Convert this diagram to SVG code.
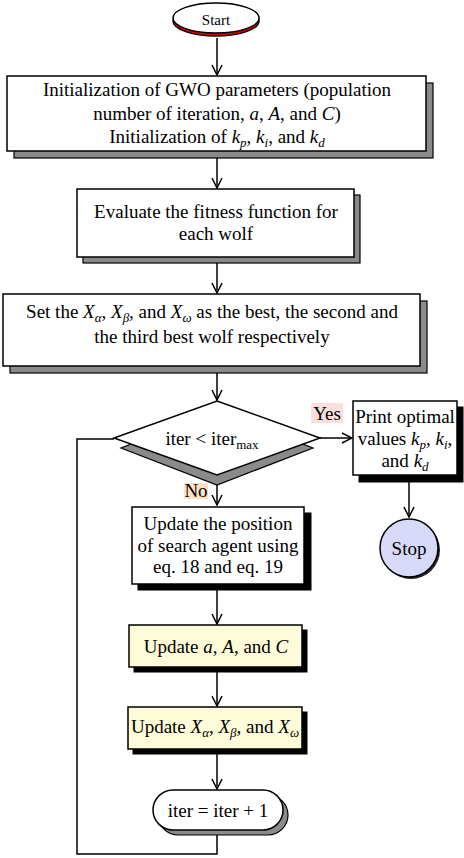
<svg xmlns="http://www.w3.org/2000/svg" width="464" height="858" viewBox="0 0 464 858">
<style>
text{font-family:"Liberation Serif","Times New Roman",serif;font-size:19px;fill:#000;text-anchor:middle}
.i{font-style:italic}
.s{font-size:13px}
.box{fill:#fff;stroke:#000;stroke-width:1.5}
.yel{fill:#fdfbd8;stroke:#000;stroke-width:1.5}
.gsh{fill:#8a8a8a;stroke:#000;stroke-width:1.2}
.bsh{fill:#000;stroke:#000;stroke-width:1}
.ln{fill:none;stroke:#000;stroke-width:1.5}
</style>
<defs>
<marker id="ah" markerUnits="userSpaceOnUse" markerWidth="12" markerHeight="12" viewBox="0 0 12 12" refX="11" refY="6" orient="auto">
<path d="M1,1 L11,6 L1,11" fill="none" stroke="#000" stroke-width="1.5"/>
</marker>
</defs>

<g id="connectors">
<line class="ln" x1="217" y1="38" x2="217" y2="75" marker-end="url(#ah)"/>
<line class="ln" x1="217" y1="151" x2="217" y2="188" marker-end="url(#ah)"/>
<line class="ln" x1="217" y1="257" x2="217" y2="293" marker-end="url(#ah)"/>
<line class="ln" x1="217" y1="366" x2="217" y2="400" marker-end="url(#ah)"/>
<line class="ln" x1="320" y1="438" x2="352" y2="438" marker-end="url(#ah)"/>
<line class="ln" x1="409" y1="476" x2="409" y2="517" marker-end="url(#ah)"/>
<line class="ln" x1="217" y1="485" x2="217" y2="505" marker-end="url(#ah)"/>
<line class="ln" x1="217" y1="584" x2="217" y2="624" marker-end="url(#ah)"/>
<line class="ln" x1="217" y1="667" x2="217" y2="706" marker-end="url(#ah)"/>
<line class="ln" x1="217" y1="749" x2="217" y2="789" marker-end="url(#ah)"/>
<polyline class="ln" points="217,835 217,854 77,854 77,439 114,439"/>
</g>

<g id="start">
<ellipse cx="216" cy="21" rx="43" ry="15" fill="#d40000" stroke="#000" stroke-width="1.5"/>
<ellipse cx="216" cy="18" rx="43" ry="15" fill="#fff" stroke="#000" stroke-width="1.5"/>
<text x="216" y="25" style="font-size:15px">Start</text>
</g>

<g id="init">
<rect class="gsh" x="14" y="83" width="419" height="75"/>
<rect class="box" x="7" y="76" width="419" height="75"/>
<text x="217" y="96">Initialization of GWO parameters (population</text>
<text x="217" y="120">number of iteration, <tspan class="i">a</tspan>, <tspan class="i">A</tspan>, and <tspan class="i">C</tspan>)</text>
<text x="217" y="143">Initialization of <tspan class="i">k</tspan><tspan class="i s" dy="4">p</tspan><tspan dy="-4">, </tspan><tspan class="i">k</tspan><tspan class="i s" dy="4">i</tspan><tspan dy="-4">, and </tspan><tspan class="i">k</tspan><tspan class="i s" dy="4">d</tspan></text>
</g>

<g id="evaluate">
<rect class="gsh" x="83" y="195" width="277" height="68"/>
<rect class="box" x="77" y="189" width="277" height="68"/>
<text x="216" y="218">Evaluate the fitness function for</text>
<text x="216" y="240">each wolf</text>
</g>

<g id="setbest">
<rect class="gsh" x="10" y="301" width="417" height="72"/>
<rect class="box" x="3" y="294" width="417" height="72"/>
<text x="212" y="318">Set the <tspan class="i">X</tspan><tspan class="i s" dy="4">α</tspan><tspan dy="-4">, </tspan><tspan class="i">X</tspan><tspan class="i s" dy="4">β</tspan><tspan dy="-4">, and </tspan><tspan class="i">X</tspan><tspan class="i s" dy="4">ω</tspan><tspan dy="-4"> as the best, the second and</tspan></text>
<text x="212" y="343">the third best wolf respectively</text>
</g>

<g id="decision">
<polygon class="gsh" points="217,411 313,448 217,485 121,448"/>
<polygon class="box" points="217,401 320,438 217,475 114,438"/>
<text x="212" y="445">iter &lt; iter<tspan class="s" dy="4">max</tspan></text>
</g>

<g id="yes-label">
<rect x="311" y="403" width="32" height="20" fill="#fbdede"/>
<text x="327" y="420">Yes</text>
</g>

<g id="no-label">
<rect x="184" y="483" width="24" height="16" fill="#fde0c2"/>
<text x="196" y="497">No</text>
</g>

<g id="print">
<rect class="bsh" x="359" y="407" width="104" height="75"/>
<rect class="box" x="353" y="401" width="104" height="74"/>
<text x="405" y="423">Print optimal</text>
<text x="405" y="445">values <tspan class="i">k</tspan><tspan class="i s" dy="4">p</tspan><tspan dy="-4">, </tspan><tspan class="i">k</tspan><tspan class="i s" dy="4">i</tspan><tspan dy="-4">,</tspan></text>
<text x="405" y="467">and <tspan class="i">k</tspan><tspan class="i s" dy="4">d</tspan></text>
</g>

<g id="stop">
<circle cx="411" cy="550" r="29" fill="#222"/>
<circle cx="409" cy="548" r="29" fill="#d8d8f8" stroke="#000" stroke-width="1.5"/>
<text x="409" y="555">Stop</text>
</g>

<g id="update-position">
<rect class="bsh" x="138" y="513" width="173" height="77"/>
<rect class="box" x="132" y="507" width="172" height="77"/>
<text x="218" y="530">Update the position</text>
<text x="218" y="552">of search agent using</text>
<text x="218" y="573">eq. 18 and eq. 19</text>
</g>

<g id="update-aAC">
<rect class="bsh" x="134" y="630" width="173" height="42"/>
<rect class="yel" x="129" y="625" width="173" height="42"/>
<text x="216" y="653">Update <tspan class="i">a</tspan>, <tspan class="i">A</tspan>, and <tspan class="i">C</tspan></text>
</g>

<g id="update-X">
<rect class="bsh" x="133" y="712" width="174" height="42"/>
<rect class="yel" x="128" y="707" width="174" height="42"/>
<text x="215" y="733">Update <tspan class="i">X</tspan><tspan class="i s" dy="4">α</tspan><tspan dy="-4">, </tspan><tspan class="i">X</tspan><tspan class="i s" dy="4">β</tspan><tspan dy="-4">, and </tspan><tspan class="i">X</tspan><tspan class="i s" dy="4">ω</tspan></text>
</g>

<g id="increment">
<rect class="gsh" x="158" y="795" width="130" height="40" rx="20"/>
<rect class="box" x="153" y="790" width="130" height="40" rx="20"/>
<text x="218" y="817">iter = iter + 1</text>
</g>
</svg>
